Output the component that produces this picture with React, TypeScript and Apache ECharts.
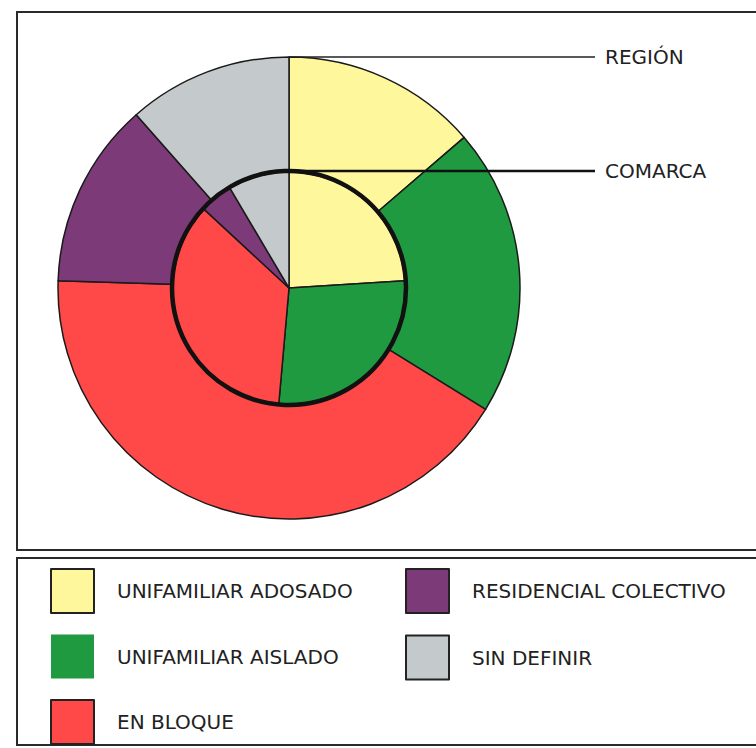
import React, { useEffect, useRef } from "react";
import * as echarts from "echarts";

const CATEGORIES = [
  "UNIFAMILIAR ADOSADO",
  "UNIFAMILIAR AISLADO",
  "EN BLOQUE",
  "RESIDENCIAL COLECTIVO",
  "SIN DEFINIR",
];
const COLORS = ["#fff79c", "#1f9a40", "#ff4848", "#7c3b78", "#c4cacb"];
const SERIES_NAMES = ["REGIÓN", "COMARCA"];
// percentages
const REGION_VALUES = [13.7, 20.1, 41.7, 13.0, 11.5];
const COMARCA_VALUES = [24.0, 27.4, 35.5, 4.6, 8.5];

const LEGEND_COL1 = ["UNIFAMILIAR ADOSADO", "UNIFAMILIAR AISLADO", "EN BLOQUE"];
const LEGEND_COL2 = ["RESIDENCIAL COLECTIVO", "SIN DEFINIR"];

const FONT = "DejaVu Sans";
const CX = 289;
const CY = 288;
const R_OUT = 231;
const R_IN = 117;
const LABEL_X = 595;

export default function App() {
  const ref = useRef<HTMLDivElement>(null);

  useEffect(() => {
    if (!ref.current) return;
    const chart = echarts.init(ref.current, undefined, { renderer: "svg" });

    const mkData = (vals: number[]) =>
      CATEGORIES.map((name, i) => ({
        name,
        value: vals[i],
        itemStyle: { color: COLORS[i] },
      }));

    const legendBase = {
      orient: "vertical" as const,
      itemWidth: 43,
      itemHeight: 44,
      itemGap: 20.5,
      padding: 0,
      selectedMode: false,
      icon: "rect",
      itemStyle: { borderColor: "#222", borderWidth: 2 },
      textStyle: {
        fontSize: 20,
        fontFamily: FONT,
        color: "#222",
        padding: [0, 0, 0, 18],
      },
    };

    const legendItem = (name: string) =>
      name === "UNIFAMILIAR AISLADO"
        ? { name, itemStyle: { borderWidth: 0 } }
        : { name };

    chart.setOption({
      animation: false,
      backgroundColor: "#ffffff",
      legend: [
        { ...legendBase, left: 50, top: 568, data: LEGEND_COL1.map(legendItem) },
        { ...legendBase, left: 405, top: 568, data: LEGEND_COL2.map(legendItem) },
      ],
      series: [
        {
          name: SERIES_NAMES[0],
          type: "pie",
          radius: [R_IN, R_OUT],
          center: [CX, CY],
          startAngle: 90,
          clockwise: true,
          silent: true,
          label: { show: false },
          labelLine: { show: false },
          itemStyle: { borderColor: "#1a1a1a", borderWidth: 1.5 },
          data: mkData(REGION_VALUES),
        },
        {
          name: SERIES_NAMES[1],
          type: "pie",
          radius: [0, R_IN - 1],
          center: [CX, CY],
          startAngle: 90,
          clockwise: true,
          silent: true,
          label: { show: false },
          labelLine: { show: false },
          itemStyle: { borderColor: "#1a1a1a", borderWidth: 1.5 },
          data: mkData(COMARCA_VALUES),
        },
      ],
      graphic: [
        {
          type: "rect",
          z: 0,
          shape: { x: 17, y: 12, width: 760, height: 538 },
          style: { fill: "rgba(0,0,0,0)", stroke: "#2a2a2a", lineWidth: 2 },
        },
        {
          type: "rect",
          z: 0,
          shape: { x: 17, y: 558, width: 760, height: 187 },
          style: { fill: "rgba(0,0,0,0)", stroke: "#2a2a2a", lineWidth: 2 },
        },
        {
          type: "circle",
          z: 20,
          shape: { cx: CX, cy: CY, r: R_IN },
          style: { fill: "rgba(0,0,0,0)", stroke: "#111", lineWidth: 4.5 },
        },
        {
          type: "line",
          z: 20,
          shape: { x1: CX, y1: CY - R_OUT, x2: LABEL_X, y2: CY - R_OUT },
          style: { stroke: "#222", lineWidth: 1.5 },
        },
        {
          type: "line",
          z: 20,
          shape: { x1: CX, y1: CY - R_IN, x2: LABEL_X, y2: CY - R_IN },
          style: { stroke: "#111", lineWidth: 2.5 },
        },
        {
          type: "text",
          z: 20,
          x: 605,
          y: CY - R_OUT,
          style: {
            text: SERIES_NAMES[0],
            font: `20px "${FONT}"`,
            fill: "#222",
            verticalAlign: "middle",
            align: "left",
          },
        },
        {
          type: "text",
          z: 20,
          x: 605,
          y: CY - R_IN,
          style: {
            text: SERIES_NAMES[1],
            font: `20px "${FONT}"`,
            fill: "#222",
            verticalAlign: "middle",
            align: "left",
          },
        },
      ],
    });

    return () => chart.dispose();
  }, []);

  return (
    <div
      ref={ref}
      style={{ position: "absolute", left: 0, top: 0, width: 756, height: 748 }}
    />
  );
}
